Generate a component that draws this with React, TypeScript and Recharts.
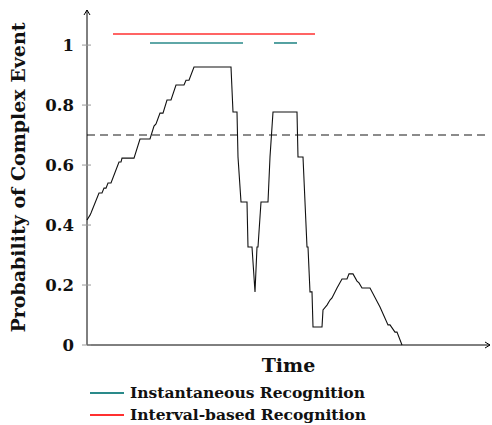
import { LineChart, Line, XAxis, YAxis, ReferenceLine } from "recharts"

// time steps and probability of the complex event
const times = [
  0, 3, 4, 12, 15, 17, 19, 21, 24, 32, 34, 35, 47, 53, 63, 67, 69, 73, 76, 80, 84, 89, 97, 99, 102, 107,
  144, 146, 150, 151, 154, 160, 161, 165, 168, 170, 171, 174, 181, 183, 186, 210, 211, 216, 220, 221, 223,
  225, 226, 235, 236, 240, 243, 245, 250, 255, 260, 262, 266, 270, 272, 275, 283, 293, 301, 303, 308, 310, 315,
]
const probs = [
  0.417, 0.433, 0.44, 0.507, 0.507, 0.523, 0.523, 0.54, 0.54, 0.61, 0.61, 0.623, 0.623, 0.687, 0.687, 0.73,
  0.737, 0.773, 0.773, 0.817, 0.817, 0.867, 0.867, 0.883, 0.883, 0.927, 0.927, 0.777, 0.777, 0.627, 0.477,
  0.477, 0.327, 0.327, 0.177, 0.327, 0.327, 0.477, 0.477, 0.627, 0.777, 0.777, 0.627, 0.627, 0.327, 0.327,
  0.177, 0.177, 0.06, 0.06, 0.117, 0.133, 0.15, 0.157, 0.19, 0.22, 0.22, 0.237, 0.237, 0.213, 0.207, 0.19,
  0.19, 0.127, 0.067, 0.067, 0.043, 0.043, 0,
]

// recognised intervals, drawn above the curve
const intervalSpan = [26, 228]
const intervalLevel = 1.037
const instantSpans = [
  [63, 156],
  [187, 210],
]
const instantLevel = 1.007

const threshold = 0.7
const yTicks = [0, 0.2, 0.4, 0.6, 0.8, 1]

const legendItems = ["Instantaneous Recognition", "Interval-based Recognition"]

const FONT = "'DejaVu Serif', serif"
const TEAL = "#2a8a8a"
const RED = "#ff3030"
const legendColors = [TEAL, RED]

const curve = times.map((t, i) => ({ t, v: probs[i] }))
const intervalLine = intervalSpan.map((t) => ({ t, v: intervalLevel }))
const instantLines = instantSpans.map((span) => span.map((t) => ({ t, v: instantLevel })))

function YTick(props: any) {
  const { x, y, payload } = props
  const axisX = x + 13
  return (
    <g>
      <line x1={axisX - 5} x2={axisX + 4} y1={y} y2={y} stroke="#999" strokeWidth={1} />
      <text x={x} y={y} dy={6} textAnchor="end" fontFamily={FONT} fontWeight="bold" fontSize={16.5} fill="#111">
        {payload.value === 0 || payload.value === 1 ? String(payload.value) : payload.value.toFixed(1)}
      </text>
    </g>
  )
}

export default function App() {
  return (
    <div style={{ position: "absolute", left: 0, top: 0, width: 492, height: 425, background: "#fff", overflow: "hidden" }}>
      <LineChart width={492} height={425} margin={{ top: 10, right: 2, left: 0, bottom: 50 }}>
        <defs>
          <marker
            id="arrowhead"
            markerWidth={8}
            markerHeight={8}
            refX={6}
            refY={4}
            orient="auto-start-reverse"
            markerUnits="userSpaceOnUse"
          >
            <path d="M1,1 L6,4 L1,7" fill="none" stroke="#000" strokeWidth={1} />
          </marker>
        </defs>
        <XAxis
          type="number"
          dataKey="t"
          domain={[0, 403]}
          tick={false}
          tickLine={false}
          height={30}
          axisLine={{ stroke: "#000", strokeWidth: 1, markerEnd: "url(#arrowhead)" }}
          label={{
            value: "Time",
            position: "insideTop",
            offset: 14,
            style: { fontFamily: FONT, fontWeight: "bold", fontSize: 19, fill: "#111" },
          }}
        />
        <YAxis
          type="number"
          domain={[0, 1.117]}
          ticks={yTicks}
          width={87}
          tickSize={5}
          tickMargin={8}
          tickLine={false}
          tick={<YTick />}
          axisLine={{ stroke: "#000", strokeWidth: 1, markerStart: "url(#arrowhead)" }}
          label={{
            value: "Probability of Complex Event",
            angle: -90,
            position: "insideLeft",
            offset: 18,
            style: { textAnchor: "middle", fontFamily: FONT, fontWeight: "bold", fontSize: 19, fill: "#111" },
          }}
        />
        <ReferenceLine y={threshold} stroke="#666" strokeWidth={1.5} strokeDasharray="8 5" />
        <Line
          data={curve}
          dataKey="v"
          type="linear"
          stroke="#111"
          strokeWidth={1.1}
          dot={false}
          isAnimationActive={false}
        />
        <Line
          data={intervalLine}
          dataKey="v"
          type="linear"
          stroke={RED}
          strokeWidth={1.6}
          dot={false}
          isAnimationActive={false}
        />
        {instantLines.map((seg, i) => (
          <Line
            key={i}
            data={seg}
            dataKey="v"
            type="linear"
            stroke={TEAL}
            strokeWidth={1.6}
            dot={false}
            isAnimationActive={false}
          />
        ))}
      </LineChart>
      <div
        style={{
          position: "absolute",
          left: 90,
          top: 382,
          fontFamily: FONT,
          fontWeight: "bold",
          fontSize: 15.5,
          color: "#111",
          lineHeight: "22px",
          whiteSpace: "nowrap",
        }}
      >
        {legendItems.map((name, i) => (
          <div key={name} style={{ display: "flex", alignItems: "center" }}>
            <div style={{ width: 34, height: 1.5, background: legendColors[i], marginRight: 6 }} />
            {name}
          </div>
        ))}
      </div>
    </div>
  )
}
